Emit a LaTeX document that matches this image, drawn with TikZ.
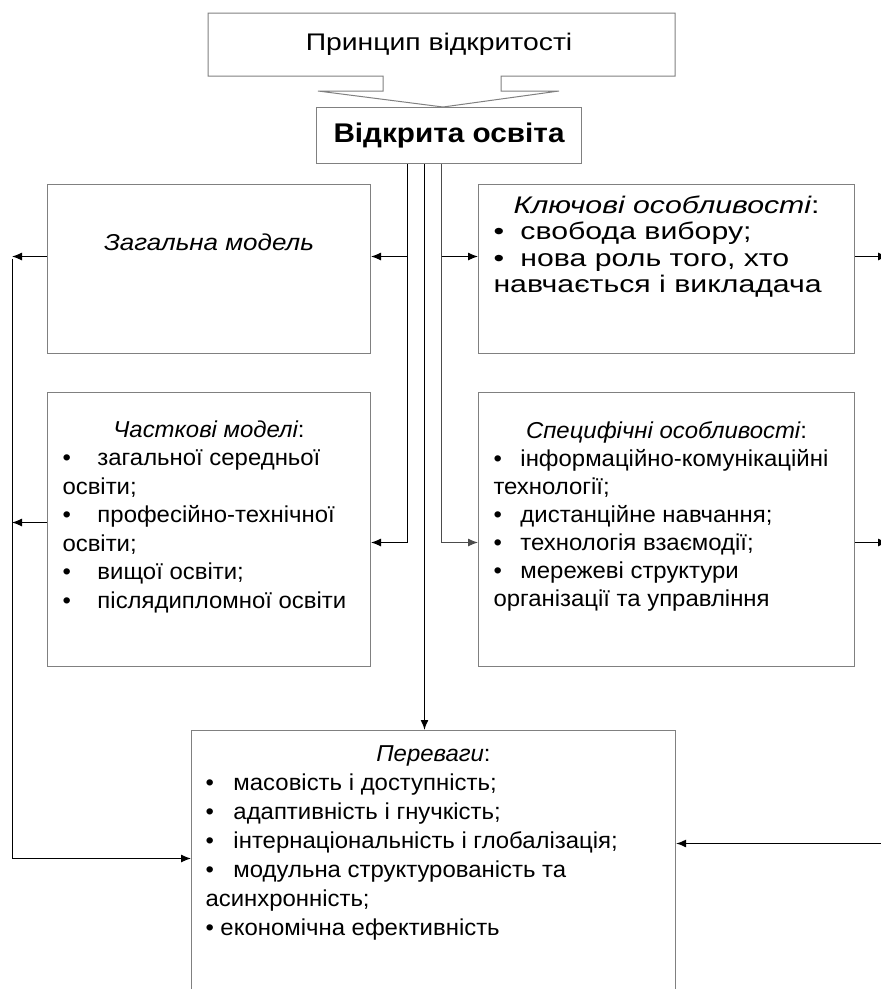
\documentclass[tikz,border=0pt]{standalone}
\usepackage{fontspec}
\setmainfont{Liberation Sans}
\newfontfamily\headfont[FakeStretch=1.18]{Liberation Sans}
\newfontfamily\mainfont[FakeStretch=1.1]{Liberation Sans}
\newfontfamily\keyfont[FakeStretch=1.26]{Liberation Sans}
\newfontfamily\modfont[FakeStretch=1.13]{Liberation Sans}
\newfontfamily\listfont[FakeStretch=1.04]{Liberation Sans}
\usetikzlibrary{positioning,arrows.meta}

\newcommand{\blt}[1][27pt]{\makebox[#1][l]{•}}
\newcommand{\boxtext}[3]{\parbox[c][#1][t]{#2}{#3}}

\begin{document}
\begin{tikzpicture}[x=1pt,y=-1pt,>={Latex[length=10pt,width=8pt]},
  box/.style={draw=gray,line width=1pt,inner xsep=15pt,inner ysep=0pt,
    anchor=north west,font=\listfont\fontsize{23}{28}\selectfont},
  link/.style={->,line width=1.1pt},
  wire/.style={line width=0.9pt}]
  \clip (0,0) rectangle (881,989);

  % principle with pointer
  \draw[gray,line width=1pt] (383,76) -- (208,76) -- (208,13) -- (675,13)
    -- (675,76) -- (501,76) -- (501,91) -- (559,91) -- (443,107)
    -- (318,91) -- (383,91) -- cycle;
  \node[font=\headfont\fontsize{24}{26}\selectfont] (pr) at (439,44) {Принцип відкритості};
  \node[draw=gray,line width=1pt,minimum width=265,minimum height=56,anchor=north west,
    font=\mainfont\fontsize{27}{30}\selectfont\bfseries] (vo) at (316,107) {Відкрита освіта};

  % boxes
  \node[box] (zm) at (47,184) {\boxtext{169pt}{293pt}{\vspace*{49pt}%
    \modfont\centering\itshape Загальна модель\par}};
  \node[box] (km) at (478,184) {\boxtext{169pt}{346pt}{\vspace*{11pt}%
    \keyfont\fontsize{24}{26.5}\selectfont
    {\centering\itshape Ключові особливості\upshape:\par}
    \blt свобода вибору;\par
    \blt нова роль того, хто\newline навчається і викладача\par}};
  \node[box] (chm) at (47,392) {\boxtext{274pt}{293pt}{\vspace*{28pt}%
    \fontsize{23}{28.5}\selectfont
    {\centering\itshape Часткові моделі\upshape:\par}
    \blt[35pt]загальної середньої\newline освіти;\par
    \blt[35pt]професійно-технічної\newline освіти;\par
    \blt[35pt]вищої освіти;\par
    \blt[35pt]післядипломної освіти\par}};
  \node[box] (sp) at (478,392) {\boxtext{274pt}{346pt}{\vspace*{29pt}%
    \fontsize{23}{28}\selectfont
    {\centering\itshape Специфічні особливості\upshape:\par}
    \blt інформаційно-комунікаційні\newline технології;\par
    \blt дистанційне навчання;\par
    \blt технологія взаємодії;\par
    \blt мережеві структури\newline організації та управління\par}};
  \node[box,inner xsep=14pt] (pv) at (191,730) {\boxtext{270pt}{456pt}{\vspace*{15pt}%
    \fontsize{23}{29}\selectfont
    {\centering\itshape Переваги\upshape:\par}
    \blt[28pt]масовість і доступність;\par
    \blt[28pt]адаптивність і гнучкість;\par
    \blt[28pt]інтернаціональність і глобалізація;\par
    \blt[28pt]модульна структурованість та\newline асинхронність;\par
    • економічна ефективність\par}};

  % trunk points
  \coordinate (tl) at ([xshift=-41.5pt]vo.south);
  \coordinate (tc) at ([xshift=-24.5pt]vo.south);
  \coordinate (tr) at ([xshift=-7.5pt]vo.south);
  \coordinate (zmin) at ([yshift=12.5pt]zm.east);
  \coordinate (chin) at ([yshift=-13pt]chm.east);
  \coordinate (kmin) at ([yshift=12.5pt]km.west);
  \coordinate (spin) at ([yshift=-13pt]sp.west);
  \coordinate (zmout) at ([yshift=12.5pt]zm.west);
  \coordinate (chout) at ([yshift=7pt]chm.west);
  \coordinate (kmout) at ([yshift=12.5pt]km.east);
  \coordinate (spout) at ([yshift=-13pt]sp.east);
  \coordinate (pvl) at ([yshift=7pt]pv.west);
  \coordinate (pvr) at ([yshift=22pt]pv.east);
  \coordinate (lft) at (12,0);
  \coordinate (rgt) at (888,0);

  % connectors
  \draw[link] (tl) |- (chin);
  \draw[link] (tl |- zmin) -- (zmin);
  \draw[link,gray!60!black] (tr) |- (spin);
  \draw[link] (tr |- kmin) -- (kmin);
  \draw[link,line width=1.5pt] (tc) -- (tc |- pv.north);
  \draw[link] (zmout) -- (zmout -| lft);
  \draw[link] (chout) -- (chout -| lft);
  \draw[wire] ([yshift=-2pt]zmout -| lft) -- (pvl -| lft);
  \draw[link] (pvl -| lft) -- (pvl);
  \draw[link] (kmout) -- (kmout -| rgt);
  \draw[link] (spout) -- (spout -| rgt);
  \draw[link,line width=1.5pt] (pvr -| rgt) -- (pvr);
\end{tikzpicture}
\end{document}
